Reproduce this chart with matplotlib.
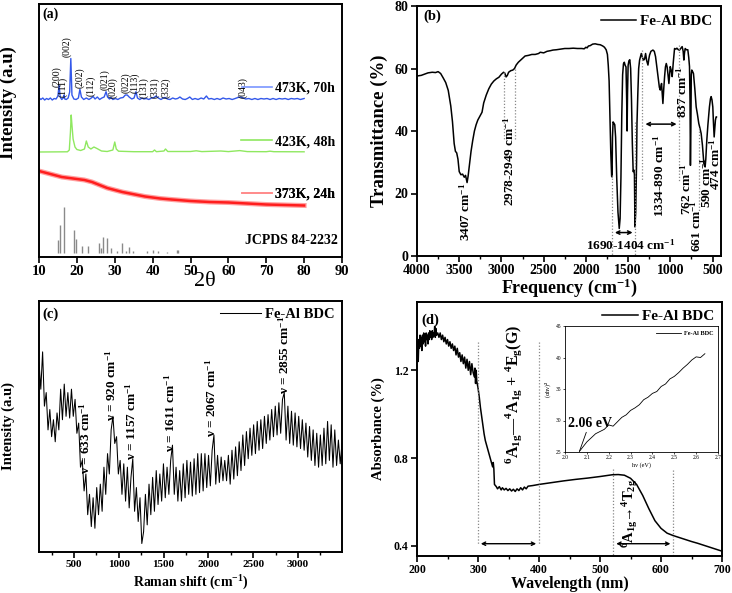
import numpy as np
import matplotlib
matplotlib.use("Agg")
import matplotlib.pyplot as plt
from matplotlib.lines import Line2D
from matplotlib.ticker import MultipleLocator

plt.rcParams['font.family'] = ['Liberation Serif', 'DejaVu Serif']
plt.rcParams['font.weight'] = 'bold'
plt.rcParams['axes.labelweight'] = 'bold'
plt.rcParams['mathtext.fontset'] = 'custom'
plt.rcParams['mathtext.rm'] = 'Liberation Serif:bold'
plt.rcParams['mathtext.it'] = 'Liberation Serif:italic:bold'
plt.rcParams['mathtext.bf'] = 'Liberation Serif:bold'

# ---------------- (a) XRD ----------------
jcpds_2t = [14.9, 15.6, 16.7, 19.3, 19.8, 21.3, 23.0, 25.9, 26.4, 26.8, 27.9, 28.9, 30.5,
            31.9, 33.0, 33.8, 34.7, 38.6, 40.2, 41.5, 43.7, 46.4, 46.6]
jcpds_h = [13, 28, 46, 23, 14, 7.3, 7.3, 10.3, 5, 16, 15, 5, 2.3,
           10, 2.3, 6, 1.5, 1.5, 3, 1.5, 1, 2.5, 2.5]
jcpds_base = 4

red_2t = [10, 12, 14, 16, 18, 20, 22, 24, 26, 28, 30, 32, 34, 36, 38, 40, 42, 45,
          50, 55, 60, 65, 70, 75, 80]
red_i = [86, 84, 82, 80, 79, 78, 77, 75, 72, 69, 67, 65, 63.5, 62, 60.5, 59.5, 58.5,
         57.5, 56, 55, 54.5, 53.5, 52.5, 52, 51.5]

green_2t = [10, 17.5, 18.0, 18.3, 18.5, 18.7, 19.0, 19.5, 20.0, 21.0, 22.0, 22.5, 23.0,
            23.7, 24.5, 25.3, 26.5, 28, 29.5, 30.0, 30.4, 31, 35, 40, 40.5, 41, 43,
            43.4, 44, 50, 51.5, 53, 58, 60, 63, 65, 70, 71, 72, 80]
green_i = [105, 105.2, 107, 125, 142, 132, 118, 110, 107.5, 106.5, 108, 116, 110,
           108, 110, 108.5, 106, 105.5, 107, 115, 108, 105.8, 105.3, 105.3, 107, 105.3,
           106, 108, 105.5, 105.5, 106.2, 105.4, 106, 105.4, 106.4, 105.4, 105.3,
           105.8, 105.3, 105.2]

blue_2t = [10, 10.05, 10.5, 11, 11.5, 12, 12.5, 13, 13.5, 14, 14.5, 15.0, 15.3, 15.6,
           16.0, 16.4, 16.6, 16.8, 17.2, 17.7, 18.1, 18.4, 18.7, 19.2, 19.8, 20.4, 20.8,
           21.2, 21.8, 22.5, 23.2, 23.8, 24.3, 24.8, 25.4, 26.0, 26.6, 27.2, 27.7, 28.1,
           28.6, 29.0, 29.5, 30.2, 30.8, 31.5, 32.2, 32.8, 33.3, 33.8, 34.5, 35.1, 35.6,
           36.0, 36.6, 37.2, 37.7, 38.3, 39.0, 39.7, 40.4, 40.9, 41.5, 42.2, 42.8, 43.3,
           43.9, 44.6, 45.3, 46.0, 46.6, 47.2, 47.9, 48.6, 49.2, 49.8, 50.5, 51.2, 52.0,
           52.8, 53.5, 54.2, 54.8, 55.5, 56.3, 57.0, 57.8, 58.6, 59.4, 60.2, 61.0, 61.8,
           62.5, 63.2, 63.9, 64.6, 65.4, 66.2, 67.0, 67.8, 68.6, 69.4, 70.2, 71.0, 71.8,
           72.6, 73.4, 74.2, 75.0, 75.8, 76.6, 77.4, 78.2, 79.0, 80.0]
blue_i = [168, 159, 157.5, 159, 157, 158.5, 157.5, 159, 157, 158.5, 158, 161, 172, 160,
          157.5, 159, 162, 158, 157.5, 159, 165, 198.5, 162, 158, 157.5, 159, 167.7,
          160, 157.5, 159, 157.5, 159, 160.5, 158, 160, 157.5, 159, 160, 165.3, 160,
          158, 159.5, 157.5, 158.5, 157.5, 159, 159.5, 162, 162, 160, 158, 159, 165.3,
          159, 157.5, 159, 158, 158.5, 157.5, 159, 159.5, 161, 159, 157.5, 159, 159.5,
          158, 157.5, 159, 158, 158.5, 160, 158, 157.5, 158.5, 160, 157.5, 158.5, 157.5,
          159, 158, 161, 158, 158.5, 157.5, 158.5, 157.5, 159, 158, 158.5, 157.5, 158.5,
          159.5, 160, 159, 158, 158.5, 157.5, 158.5, 157.5, 158.5, 158, 158.5, 157.5,
          158.5, 157.5, 158.5, 158, 158.5, 157.5, 158.5, 158, 158.5, 157.5, 158.5]

hkl_labels = ['(200)', '(111)', '(002)', '(202)', '(112)', '(021)', '(020)', '(022)',
              '(113)', '(131)', '(331)', '(332)', '(043)']
hkl_2t = [14.7, 16.4, 17.3, 20.8, 23.7, 27.4, 29.6, 33.0, 35.3, 37.7, 40.7, 43.4, 63.9]
hkl_y = [170, 160, 200, 169, 161, 167, 159, 164, 164, 159, 159, 159, 159]

# ---------------- (b) FTIR ----------------
ftir_wn = [4000, 3950, 3900, 3870, 3820, 3780, 3750, 3720, 3690, 3660, 3630, 3600, 3580,
           3560, 3545, 3530, 3515, 3500, 3480, 3460, 3440, 3425, 3407, 3395, 3380, 3360,
           3340, 3320, 3300, 3280, 3250, 3230, 3210, 3180, 3150, 3120, 3090, 3060, 3030,
           3000, 2975, 2960, 2945, 2930, 2915, 2890, 2865, 2845, 2826, 2800, 2760, 2720,
           2680, 2640, 2600, 2560, 2540, 2500, 2460, 2420, 2390, 2350, 2300, 2250, 2200,
           2150, 2100, 2050, 2020, 2000, 1985, 1970, 1950, 1920, 1890, 1860, 1830, 1800,
           1780, 1760, 1745, 1735, 1725, 1715, 1705, 1695, 1690, 1685, 1678, 1668, 1658,
           1648, 1635, 1620, 1605, 1595, 1585, 1575, 1565, 1555, 1545, 1535, 1525, 1517,
           1512, 1507, 1500, 1490, 1480, 1470, 1460, 1450, 1440, 1432, 1425, 1419, 1410,
           1400, 1395, 1385, 1375, 1364, 1344, 1330, 1317, 1305, 1293, 1280, 1265, 1255,
           1246, 1230, 1206, 1190, 1175, 1160, 1147, 1130, 1119, 1110, 1104, 1095, 1088,
           1078, 1068, 1058, 1048, 1038, 1029, 1017, 1008, 1001, 990, 978, 965, 950, 935,
           922, 905, 891, 875, 860, 848, 840, 832, 824, 810, 793, 782, 773, 767, 762, 757,
           752, 746, 736, 726, 710, 694, 680, 663, 650, 635, 620, 603, 595, 588, 580, 568,
           555, 537, 525, 517, 507, 497, 490, 481, 474, 466, 458, 454]
ftir_t = [57.6, 57.8, 58.3, 58.6, 58.8, 58.7, 59.0, 58.4, 57.0, 55.5, 53.0, 48.0, 43.0,
          36.0, 33.5, 33.0, 31.0, 27.0, 26.0, 26.2, 25.2, 25.8, 23.5, 25.5, 29.0, 33.5,
          37.0, 40.0, 42.0, 43.5, 45.0, 46.0, 49.0, 51.5, 53.5, 55.0, 56.0, 56.7, 57.2,
          58.2, 58.8, 58.5, 57.3, 57.8, 58.8, 59.3, 59.5, 60.0, 61.1, 62.0, 63.0, 64.0,
          64.2, 64.5, 64.5, 64.8, 65.2, 65.0, 65.5, 65.7, 65.9, 66.0, 66.2, 66.4, 66.4,
          66.5, 66.4, 66.4, 66.3, 66.8, 66.6, 67.2, 67.3, 67.8, 67.9, 67.7, 67.6, 67.2,
          66.8, 66.0, 64.5, 61.0, 56.0, 45.0, 33.0, 25.5, 25.3, 38.0, 42.9, 42.5, 42.0,
          38.0, 25.0, 14.0, 8.8, 12.0, 25.0, 45.0, 58.0, 61.5, 62.0, 61.0, 60.5, 50.0,
          40.0, 52.0, 61.0, 62.5, 62.8, 60.0, 50.0, 36.0, 27.0, 27.5, 26.0, 9.3, 14.0,
          30.0, 42.4, 52.0, 60.0, 62.7, 64.8, 63.5, 62.7, 63.0, 64.8, 62.5, 61.1, 63.0,
          64.3, 65.5, 65.9, 65.5, 63.8, 60.5, 57.4, 54.0, 53.1, 54.5, 55.2, 51.5, 48.8,
          53.5, 57.4, 60.5, 61.6, 60.5, 58.4, 55.2, 58.5, 60.6, 59.5, 57.4, 62.0, 66.4,
          66.2, 66.5, 66.0, 65.9, 66.5, 67.0, 65.5, 62.7, 65.0, 66.4, 66.0, 66.0, 63.5,
          60.6, 50.0, 29.0, 40.0, 58.0, 59.5, 59.0, 58.4, 53.5, 47.7, 45.5, 42.4, 41.0,
          39.2, 35.5, 29.6, 28.8, 28.5, 31.0, 37.1, 42.0, 47.7, 50.3, 51.0, 50.0, 47.7,
          43.0, 38.1, 40.5, 43.5, 44.5, 44.5]

# ---------------- (c) Raman ----------------
raman_int = [560, 480, 590, 430, 470, 360, 420, 340, 390, 325, 410, 360, 480, 390, 495,
             400, 470, 395, 480, 400, 450, 350, 380, 250, 270, 180, 230, 110, 170, 75,
             160, 70, 190, 110, 200, 120, 250, 170, 290, 230, 360, 400, 320, 340, 230,
             270, 170, 260, 150, 250, 130, 220, 275, 120, 190, 90, 160, 25, 60, 170,
             80, 200, 110, 220, 120, 240, 140, 230, 150, 260, 160, 250, 170, 270, 315,
             170, 250, 150, 240, 150, 260, 160, 270, 170, 265, 165, 275, 170, 290, 175,
             290, 180, 290, 190, 285, 195, 300, 345, 200, 285, 205, 280, 210, 270, 210,
             285, 200, 300, 215, 310, 225, 325, 240, 345, 255, 355, 275, 365, 285, 375,
             290, 385, 300, 390, 305, 400, 320, 405, 330, 420, 340, 430, 345, 440, 350,
             450, 470, 330, 430, 320, 415, 315, 410, 310, 400, 305, 390, 300, 380, 280,
             370, 270, 360, 255, 350, 250, 345, 255, 365, 260, 385, 270, 375, 250, 360,
             255, 330, 260, 320]
raman_shift = np.linspace(110, 3490, len(raman_int))
raman_peaks = [633, 920, 1157, 1611, 2067, 2855]
raman_lab_x = [623, 920, 1143, 1577, 2027, 2851]
raman_lab_y = [230, 385, 270, 295, 340, 465]

# ---------------- (d) UV-vis ----------------
uv_wl = [200, 201, 202, 203, 204, 205, 206, 207, 208, 209, 210, 211, 212, 213, 214, 215,
         216, 217, 218, 219, 220, 221, 222, 223, 224, 225, 226, 227, 228, 229, 230, 231,
         232, 234, 236, 238, 240, 242, 244, 246, 248, 250, 252, 254, 256, 258, 260, 262,
         264, 266, 268, 270, 272, 274, 276, 278, 280, 282, 284, 286, 288, 290, 292, 294,
         295, 296, 297, 298, 300, 302, 304, 306, 308, 310, 312, 314, 316, 318, 320, 322,
         324, 325, 326, 327, 330, 332, 335, 338, 340, 343, 346, 349, 352, 355, 358, 361,
         364, 367, 370, 373, 376, 379, 382, 390, 400, 420, 440, 460, 480, 500, 520, 530,
         540, 550, 560, 570, 580, 590, 600, 610, 620, 630, 640, 650, 660, 670, 680, 690,
         700]
uv_abs = [1.28, 1.33, 1.24, 1.34, 1.30, 1.36, 1.31, 1.35, 1.29, 1.36, 1.32, 1.37, 1.33,
          1.36, 1.31, 1.37, 1.34, 1.36, 1.32, 1.37, 1.34, 1.38, 1.35, 1.37, 1.34, 1.38,
          1.35, 1.37, 1.36, 1.40, 1.35, 1.39, 1.36, 1.37, 1.35, 1.37, 1.34, 1.36, 1.33,
          1.35, 1.32, 1.34, 1.31, 1.33, 1.30, 1.32, 1.29, 1.31, 1.27, 1.30, 1.26, 1.28,
          1.24, 1.27, 1.23, 1.26, 1.21, 1.25, 1.20, 1.24, 1.18, 1.23, 1.19, 1.17, 1.21,
          1.14, 1.20, 1.15, 1.12, 1.08, 1.03, 0.99, 0.95, 0.91, 0.88, 0.86, 0.84, 0.82,
          0.80, 0.78, 0.76, 0.78, 0.75, 0.68, 0.67, 0.66, 0.67, 0.655, 0.665, 0.655,
          0.662, 0.652, 0.66, 0.65, 0.658, 0.648, 0.66, 0.652, 0.665, 0.655, 0.668, 0.66,
          0.672, 0.675, 0.68, 0.688, 0.696, 0.703, 0.709, 0.716, 0.724, 0.725, 0.722,
          0.708, 0.680, 0.630, 0.570, 0.515, 0.480, 0.458, 0.447, 0.438, 0.429, 0.420,
          0.412, 0.403, 0.394, 0.385, 0.376]

tauc_hv = [2.066, 2.10, 2.14, 2.18, 2.20, 2.22, 2.24, 2.26, 2.28, 2.30, 2.32, 2.34, 2.36,
           2.38, 2.40, 2.42, 2.44, 2.46, 2.48, 2.50, 2.52, 2.54, 2.56, 2.58, 2.60, 2.62,
           2.64]
tauc_y = [25.1, 26.6, 27.9, 28.6, 29.3, 29.1, 29.8, 30.5, 30.9, 31.6, 32.0, 32.5, 33.3,
          33.7, 34.3, 34.6, 35.4, 35.8, 36.6, 37.0, 37.6, 38.3, 38.9, 39.6, 40.1, 40.0,
          40.6]

W, H = 732, 593
fig = plt.figure(figsize=(W / 100, H / 100), dpi=100)


def box(l, t, r, b):
    return [l / W, 1 - b / H, (r - l) / W, (b - t) / H]


ax_a = fig.add_axes(box(39, 4, 342, 257))
ax_b = fig.add_axes(box(417, 6, 721, 256))
ax_c = fig.add_axes(box(39, 301, 342, 552))
ax_d = fig.add_axes(box(417, 302, 722, 556))
ax_in = fig.add_axes(box(565, 326, 718, 452))

for ax in (ax_a, ax_b, ax_c, ax_d):
    for s in ax.spines.values():
        s.set_linewidth(1.4)
    ax.tick_params(direction='out', length=4, width=1.2, pad=2)
    ax.tick_params(which='minor', direction='out', length=2.5, width=1)
ax_a.tick_params(labelsize=10.5)
ax_b.tick_params(labelsize=10)
ax_c.tick_params(labelsize=8)
ax_d.tick_params(labelsize=8.5)

dot = dict(color='#888888', ls=(0, (1, 1.5)), lw=0.9)

# (a)
ax_a.vlines(jcpds_2t, jcpds_base, [jcpds_base + h for h in jcpds_h], color='#8a8a8a', lw=1.0)
ax_a.plot(red_2t, red_i, color='#ffa0a0', lw=3.6)
ax_a.plot(red_2t, red_i, color='#ff1e1e', lw=1.8)
ax_a.plot(green_2t, green_i, color='#8fe860', lw=1.0)
ax_a.plot(blue_2t, blue_i, color='#3358ea', lw=1.0)
for lab, x, y in zip(hkl_labels, hkl_2t, hkl_y):
    ax_a.text(x, y, lab, rotation=90, ha='center', va='bottom', fontsize=7,
              fontweight='normal')
ax_a.set_xlim(10, 90)
ax_a.set_ylim(0, 253)
ax_a.set_xticks(range(10, 91, 10))
ax_a.set_yticks([])
ax_a.set_xlabel('2θ', fontsize=16, fontweight='normal')
ax_a.xaxis.set_label_coords(0.548, -0.058)
ax_a.xaxis.label.set_va('top')
ax_a.set_ylabel('Intensity (a.u)', fontsize=13.5)
ax_a.yaxis.set_label_coords(-0.072, 0.61)
ax_a.text(0.01, 0.985, '(a)', transform=ax_a.transAxes, va='top', fontsize=10)
leg_items = [('473K, 70h', '#7a96ff', 0.668), ('423K, 48h', '#8fe860', 0.456),
             ('373K, 24h', '#ff8a8a', 0.248)]
for lab, col, yy in leg_items:
    lg = ax_a.legend([Line2D([], [], color=col, lw=1.2)], [lab], loc='center right',
                     bbox_to_anchor=(1.0, yy), frameon=False, fontsize=10,
                     handlelength=2.2, handletextpad=0.2, borderaxespad=0.1)
    ax_a.add_artist(lg)
ax_a.text(0.985, 0.064, 'JCPDS 84-2232', transform=ax_a.transAxes, ha='right',
          va='center', fontsize=10)

# (b)
ax_b.plot(ftir_wn, ftir_t, color='black', lw=1.1, label='Fe-Al BDC')
ax_b.set_xlim(4000, 400)
ax_b.set_ylim(0, 80)
ax_b.set_xticks(range(4000, 499, -500))
ax_b.xaxis.set_minor_locator(MultipleLocator(250))
ax_b.set_yticks(range(0, 81, 20))
ax_b.set_xlabel('Frequency (cm$^{-1}$)', fontsize=13)
ax_b.xaxis.set_label_coords(0.5, -0.082)
ax_b.xaxis.label.set_va('top')
ax_b.set_ylabel('Transmittance (%)', fontsize=13.5)
ax_b.yaxis.set_label_coords(-0.095, 0.5)
ax_b.text(0.02, 0.985, '(b)', transform=ax_b.transAxes, va='top', fontsize=10.5)
ax_b.legend(loc='upper right', frameon=False, fontsize=11, handlelength=2.3,
            handletextpad=0.3, borderaxespad=0.15)
for x0, y0, y1 in [(2975, 59, 37), (2840, 60, 37), (1694, 26, 0), (1414, 43, 0),
                   (1336, 66, 24), (902, 67.5, 24), (658, 41, 14)]:
    ax_b.plot([x0, x0], [y0, y1], **dot)
ftir_notes = [('3407 cm$^{-1}$', 3425, 23.5), ('2978-2949 cm$^{-1}$', 2902, 44.5),
              ('1334-890 cm$^{-1}$', 1127, 39), ('837 cm$^{-1}$', 860, 60.6),
              ('762 cm$^{-1}$', 808, 29.6), ('661 cm$^{-1}$', 697, 17.8),
              ('590 cm$^{-1}$', 579, 31.7), ('474 cm$^{-1}$', 469, 37.6)]
for lab, x, y in ftir_notes:
    ax_b.text(x, y, lab, rotation=90, ha='center', va='top', fontsize=9.5)
ax_b.annotate('', xy=(1690, 7.5), xytext=(1414, 7.5),
              arrowprops=dict(arrowstyle='<->', lw=1.1, mutation_scale=6))
ax_b.annotate('', xy=(1328, 42.2), xytext=(893, 42.2),
              arrowprops=dict(arrowstyle='<->', lw=1.1, mutation_scale=6))
ax_b.text(1466, 3.4, '1690-1404 cm$^{-1}$', ha='center', va='center', fontsize=9.5)

# (c)
ax_c.plot(raman_shift, raman_int, color='black', lw=0.75, label='Fe-Al BDC')
ax_c.set_xlim(110, 3490)
ax_c.set_ylim(0, 740)
ax_c.set_xticks(range(500, 3001, 500))
ax_c.xaxis.set_minor_locator(MultipleLocator(250))
ax_c.set_yticks([])
ax_c.set_xlabel('Raman shift (cm$^{-1}$)', fontsize=10)
ax_c.xaxis.set_label_coords(0.5, -0.088)
ax_c.xaxis.label.set_va('top')
ax_c.set_ylabel('Intensity (a.u)', fontsize=10.5)
ax_c.yaxis.set_label_coords(-0.079, 0.5)
ax_c.text(0.01, 0.975, '(c)', transform=ax_c.transAxes, va='top', fontsize=10.5)
ax_c.legend(loc='upper right', frameon=False, fontsize=10.5, handlelength=2.8,
            handletextpad=0.3, borderaxespad=0.1)
for p, x, y in zip(raman_peaks, raman_lab_x, raman_lab_y):
    ax_c.text(x, y, 'ν = %d cm$^{-1}$' % p, rotation=90, ha='center', va='bottom',
              fontsize=9.5)

# (d)
ax_d.plot(uv_wl, uv_abs, color='black', lw=1.1, label='Fe-Al BDC')
ax_d.set_xlim(200, 700)
ax_d.set_ylim(0.354, 1.511)
ax_d.set_xticks(range(200, 701, 100))
ax_d.set_yticks([0.4, 0.8, 1.2])
ax_d.xaxis.set_minor_locator(MultipleLocator(50))
ax_d.set_xlabel('Wavelength (nm)', fontsize=11.5)
ax_d.xaxis.set_label_coords(0.5, -0.08)
ax_d.xaxis.label.set_va('top')
ax_d.set_ylabel('Absorbance (%)', fontsize=10.5)
ax_d.yaxis.set_label_coords(-0.105, 0.5)
ax_d.text(0.015, 0.955, '(d)', transform=ax_d.transAxes, va='top', fontsize=10.5)
ax_d.legend(loc='upper right', frameon=False, fontsize=11, handlelength=2.3,
            handletextpad=0.3, borderaxespad=0.1)
for x0, y0, y1 in [(300, 1.33, 0.41), (400, 1.33, 0.41), (522, 0.75, 0.354),
                   (620, 0.745, 0.354)]:
    ax_d.plot([x0, x0], [y0, y1], **dot)
for xa, xb in [(300, 400), (522, 620)]:
    ax_d.annotate('', xy=(xa, 0.41), xytext=(xb, 0.41),
                  arrowprops=dict(arrowstyle='<->', lw=1.0, mutation_scale=6))
ax_d.text(358, 0.775,
          '$^{6}$A$_{\\mathrm{1g}}$\u2014$^{4}$A$_{\\mathrm{1g}}$ + $^{4}$E$_{\\mathrm{g}}$(G)',
          rotation=90, ha='center', va='bottom', fontsize=11.5)
ax_d.text(549, 0.39, '$^{6}$A$_{\\mathrm{1g}}$\u2192$^{4}$T$_{\\mathrm{2g}}$',
          rotation=90, ha='center', va='bottom', fontsize=10.5)

# inset
ax_in.plot(tauc_hv, tauc_y, color='black', lw=0.6, label='Fe-Al BDC')
ax_in.set_xlim(2.0, 2.7)
ax_in.set_ylim(25, 45)
ax_in.set_xticks(np.arange(2.0, 2.71, 0.1))
ax_in.set_yticks(range(25, 46, 5))
ax_in.tick_params(labelsize=4, length=1.5, width=0.5, pad=1)
for t in ax_in.get_xticklabels() + ax_in.get_yticklabels():
    t.set_fontweight('normal')
for s in ax_in.spines.values():
    s.set_linewidth(0.6)
ax_in.set_xlabel('hν (eV)', fontsize=4.5, fontweight='normal', labelpad=1)
ax_in.set_ylabel('(αhν)$^2$', fontsize=4.5, fontweight='normal', labelpad=2)
ax_in.legend(loc='upper right', frameon=False, fontsize=4.5, handlelength=4,
             handletextpad=0.5, borderaxespad=0.3)
ax_in.annotate('2.06 eV', xy=(2.066, 25.1), xytext=(2.012, 29.6), fontsize=10,
               va='center', arrowprops=dict(arrowstyle='-', lw=0.6, shrinkA=0, shrinkB=0))

fig.savefig('out.png', dpi=100)
